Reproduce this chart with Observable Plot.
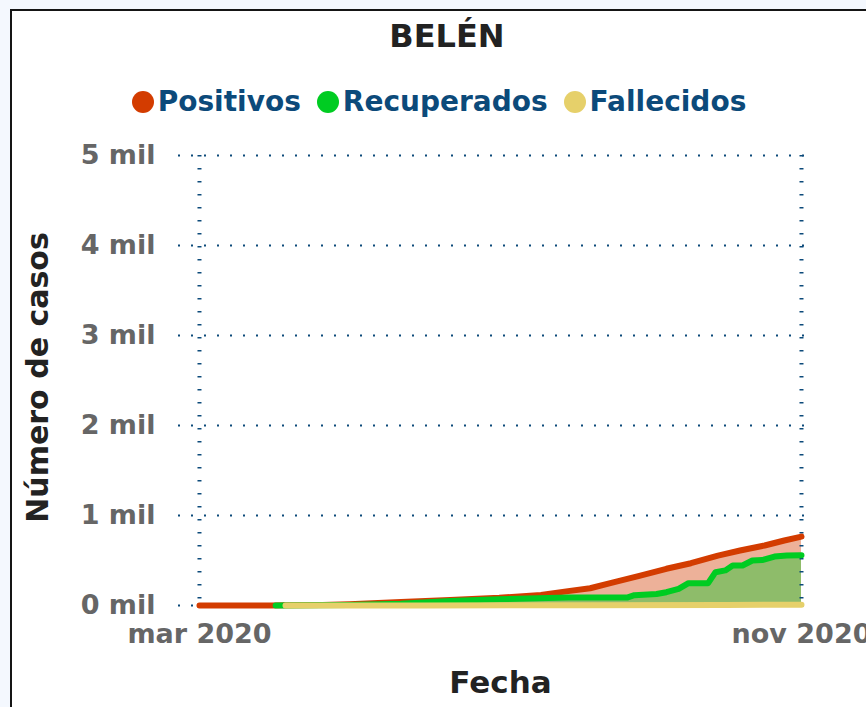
<!DOCTYPE html>
<html><head><meta charset="utf-8">
<script src="https://cdn.jsdelivr.net/npm/d3@7"></script>
<script src="https://cdn.jsdelivr.net/npm/@observablehq/plot@0.6"></script>
<style>
html,body{margin:0;padding:0;}
body{background:#f4f8fe;width:866px;height:707px;overflow:hidden;position:relative;font-family:"DejaVu Sans",sans-serif;font-weight:bold;}
#panel{position:absolute;left:10px;top:9px;width:900px;height:740px;background:#fff;border:2px solid #151515;box-sizing:border-box;}
#title{position:absolute;left:10px;width:874px;top:20px;text-align:center;font-size:32px;line-height:32px;color:#222;}
#legend{position:absolute;left:2px;width:874px;top:88px;display:flex;justify-content:center;gap:16px;font-size:28px;line-height:28px;color:#0c4a7a;}
#legend .item{display:flex;align-items:center;}
#legend .sw{width:22px;height:22px;border-radius:50%;margin-right:4px;}
#chart{position:absolute;left:0;top:130px;}
</style></head>
<body>
<div id="panel"></div>
<div id="title">BELÉN</div>
<div id="legend"></div>
<div id="chart"></div>
<script>
const seriesNames = ["Positivos", "Recuperados", "Fallecidos"];
const seriesColors = ["#d33c00", "#00cc22", "#e6d06a"];

const posDates = ["2020-03-01","2020-03-30","2020-04-05","2020-04-20","2020-05-01","2020-05-22","2020-06-11","2020-07-01","2020-07-18","2020-07-29","2020-08-07","2020-08-16","2020-08-27","2020-09-07","2020-09-17","2020-09-28","2020-10-07","2020-10-17","2020-10-25","2020-11-01"];
const posValues = [0,0,2,6,15,40,62,85,118,160,192,255,330,408,470,555,611,667,722,765];

const recDates = ["2020-04-01","2020-05-01","2020-05-22","2020-06-11","2020-07-01","2020-07-29","2020-08-22","2020-08-25","2020-09-03","2020-09-07","2020-09-12","2020-09-16","2020-09-24","2020-09-27","2020-10-01","2020-10-04","2020-10-08","2020-10-12","2020-10-16","2020-10-21","2020-10-26","2020-11-01"];
const recValues = [0,5,20,50,70,88,88,115,128,148,185,248,248,370,390,444,444,500,505,544,555,558];

const falDates = ["2020-04-05","2020-06-01","2020-08-01","2020-10-01","2020-11-01"];
const falValues = [0,1,3,6,9];

const yTicks = [0,1000,2000,3000,4000,5000];
const xTickDates = ["2020-03-01","2020-11-01"];
const monthNames = ["ene","feb","mar","abr","may","jun","jul","ago","sep","oct","nov","dic"];

const toRows = (dates, vals) => dates.map((d,i) => ({date: new Date(d + "T00:00:00Z"), value: vals[i]}));
const pos = toRows(posDates, posValues);
const rec = toRows(recDates, recValues);
const fal = toRows(falDates, falValues);
const xTicks = xTickDates.map(d => new Date(d + "T00:00:00Z"));

// legend
const leg = document.getElementById("legend");
seriesNames.forEach((n,i) => {
  const it = document.createElement("div"); it.className = "item";
  const sw = document.createElement("span"); sw.className = "sw"; sw.style.background = seriesColors[i];
  const tx = document.createElement("span"); tx.textContent = n;
  it.appendChild(sw); it.appendChild(tx); leg.appendChild(it);
});

const gridColor = "#0c4a7a";
const chart = Plot.plot({
  width: 866, height: 577,
  marginLeft: 178, marginRight: 56, marginTop: 25, marginBottom: 102,
  style: {fontFamily: "DejaVu Sans", fontWeight: "bold", background: "transparent", overflow: "visible"},
  x: {type: "utc", domain: [new Date("2020-02-21T11:00:00Z"), new Date("2020-11-04T16:00:00Z")]},
  y: {domain: [0, 5000]},
  marks: [
    Plot.areaY(pos, {x: "date", y: "value", fill: seriesColors[0], fillOpacity: 0.4}),
    Plot.areaY(rec, {x: "date", y: "value", fill: seriesColors[1], fillOpacity: 0.4}),
    Plot.gridY({ticks: yTicks, stroke: gridColor, strokeOpacity: 1, strokeWidth: 2, strokeDasharray: "2,11"}),
    Plot.gridX({ticks: xTicks, stroke: gridColor, strokeOpacity: 1, strokeWidth: 4, strokeDasharray: "1.5,11.5"}),
    Plot.lineY(pos, {x: "date", y: "value", stroke: seriesColors[0], strokeWidth: 6}),
    Plot.lineY(rec, {x: "date", y: "value", stroke: seriesColors[1], strokeWidth: 6}),
    Plot.lineY(fal, {x: "date", y: "value", stroke: seriesColors[2], strokeWidth: 6}),
    Plot.axisY({ticks: yTicks, tickSize: 0, tickPadding: 23, label: null, fontSize: 27, fill: "#666", tickFormat: d => (d/1000) + " mil"}),
    Plot.axisX({ticks: xTicks, tickSize: 0, tickPadding: 18, label: null, fontSize: 27, fill: "#666",
      tickFormat: d => monthNames[d.getUTCMonth()] + " " + d.getUTCFullYear()}),
    Plot.text(["Número de casos"], {frameAnchor: "left", textAnchor: "middle", rotate: -90, dx: -140, dy: -3, fontSize: 30, fill: "#222", lineAnchor: "middle"}),
    Plot.text(["Fecha"], {frameAnchor: "bottom", textAnchor: "middle", dx: 6, dy: 78, fontSize: 31, fill: "#222", lineAnchor: "middle"})
  ]
});
document.getElementById("chart").appendChild(chart);
</script>
</body></html>
